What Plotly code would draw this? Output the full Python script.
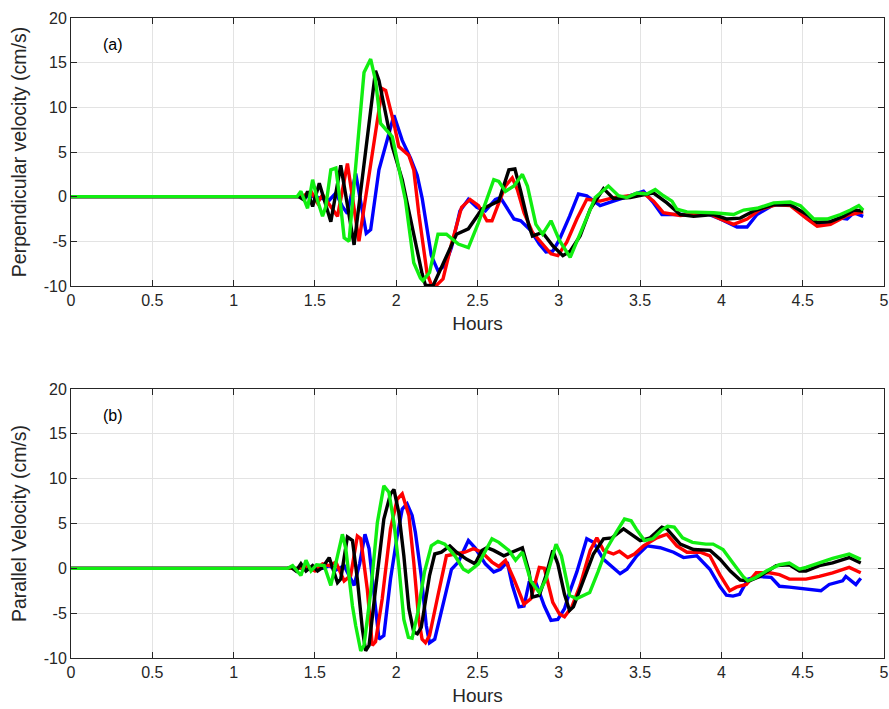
import plotly.graph_objects as go

# ---------------- data: (hours, cm/s) pairs ----------------
perp_blue = [(0,0),(1.50,0),(1.588,-0.4),(1.629,0.4),(1.669,-1.1),(1.700,-1.9),(1.751,2.6),(1.816,-4.1),(1.843,-3.7),(1.894,3.0),(1.986,9.1),(2.037,6.3),(2.088,4.3),(2.129,2.4),(2.160,-0.2),(2.216,-6.6),(2.257,-8.3),(2.299,-7.7),(2.340,-5.7),(2.392,-1.6),(2.444,-0.3),(2.496,-1.2),(2.548,-1.6),(2.610,-0.3),(2.641,-0.1),(2.683,-1.4),(2.724,-2.5),(2.766,-2.7),(2.828,-3.8),(2.880,-5.3),(2.921,-6.2),(2.963,-6.1),(3.004,-4.8),(3.066,-2.2),(3.121,0.3),(3.172,0.1),(3.254,-1.0),(3.336,-0.5),(3.439,0.1),(3.521,0.6),(3.583,-0.7),(3.634,-2.0),(3.747,-2.0),(3.911,-1.9),(3.993,-2.5),(4.096,-3.4),(4.158,-3.4),(4.219,-2.0),(4.321,-0.9),(4.424,-0.9),(4.547,-2.7),(4.629,-3.1),(4.732,-2.4),(4.773,-2.5),(4.814,-1.8),(4.872,-2.2)]
perp_red = [(0,0),(1.42,0),(1.476,0.6),(1.516,-0.7),(1.547,0.2),(1.588,-0.9),(1.639,-2.2),(1.700,3.7),(1.771,-5.0),(1.914,12.1),(1.935,11.9),(1.986,8.2),(2.016,5.6),(2.078,4.6),(2.108,3.0),(2.139,-1.9),(2.190,-8.6),(2.226,-10.3),(2.288,-9.2),(2.340,-5.3),(2.402,-1.2),(2.454,-0.3),(2.506,-1.0),(2.558,-2.7),(2.589,-2.7),(2.631,-0.7),(2.672,1.2),(2.714,2.1),(2.745,0.8),(2.786,-1.8),(2.838,-4.0),(2.900,-5.3),(2.952,-6.4),(2.994,-6.6),(3.049,-5.1),(3.111,-2.5),(3.172,-0.3),(3.254,-0.5),(3.336,-0.1),(3.439,0.1),(3.521,0.4),(3.583,-0.5),(3.644,-1.8),(3.747,-2.1),(3.911,-1.8),(3.993,-2.5),(4.075,-3.1),(4.158,-2.5),(4.240,-1.4),(4.342,-0.9),(4.424,-1.0),(4.527,-2.5),(4.589,-3.3),(4.671,-3.1),(4.773,-2.1),(4.872,-1.7)]
perp_black = [(0,0),(1.40,0),(1.435,-0.4),(1.455,0.6),(1.486,-1.1),(1.527,1.5),(1.598,-2.8),(1.659,3.5),(1.741,-5.4),(1.873,14.1),(1.894,13.0),(1.976,5.6),(2.037,1.9),(2.159,-8.6),(2.180,-9.9),(2.226,-10.0),(2.371,-4.2),(2.444,-3.6),(2.527,-1.4),(2.579,-0.9),(2.631,-0.5),(2.693,3.0),(2.730,3.1),(2.766,0.6),(2.817,-3.3),(2.838,-4.4),(2.900,-4.0),(2.963,-5.5),(3.025,-6.6),(3.070,-6.1),(3.131,-4.4),(3.193,-1.4),(3.275,0.9),(3.336,-0.2),(3.439,-0.1),(3.542,0.3),(3.583,0.4),(3.665,-0.7),(3.747,-2.0),(3.829,-2.2),(3.952,-2.0),(4.034,-2.5),(4.116,-2.4),(4.198,-1.6),(4.321,-0.9),(4.424,-0.9),(4.527,-2.0),(4.589,-2.9),(4.671,-2.8),(4.752,-2.2),(4.814,-1.5),(4.872,-1.6)]
perp_green = [(0,0),(1.39,0),(1.414,0.6),(1.435,-0.3),(1.455,-1.3),(1.486,1.9),(1.516,-0.4),(1.547,-2.2),(1.567,-1.1),(1.598,3.0),(1.629,3.2),(1.659,-1.1),(1.680,-4.6),(1.710,-5.0),(1.802,13.9),(1.843,15.4),(1.873,13.0),(1.904,8.2),(1.935,7.6),(1.976,6.7),(2.057,-0.4),(2.108,-7.4),(2.149,-9.1),(2.164,-9.4),(2.205,-8.5),(2.257,-4.2),(2.309,-4.2),(2.382,-5.3),(2.444,-5.7),(2.506,-2.9),(2.600,1.9),(2.631,1.7),(2.672,0.6),(2.724,1.2),(2.776,2.5),(2.807,1.2),(2.859,-3.1),(2.900,-4.2),(2.952,-2.7),(3.004,-4.9),(3.070,-6.8),(3.224,-0.1),(3.305,1.2),(3.367,0.1),(3.419,-0.1),(3.480,0.4),(3.542,0.3),(3.593,0.8),(3.644,0.1),(3.696,-0.5),(3.726,-1.4),(3.788,-1.7),(3.952,-1.8),(4.075,-2.0),(4.137,-1.5),(4.219,-1.3),(4.321,-0.7),(4.424,-0.6),(4.486,-1.0),(4.568,-2.5),(4.650,-2.5),(4.732,-2.0),(4.794,-1.5),(4.845,-1.0),(4.872,-1.5)]

par_blue = [(0,0),(1.55,0),(1.588,0.3),(1.629,-0.2),(1.680,0.3),(1.741,-1.9),(1.775,0.5),(1.808,3.8),(1.833,2.2),(1.873,-4.2),(1.894,-7.9),(1.924,-7.5),(1.965,-1.2),(2.006,3.6),(2.037,6.6),(2.067,7.2),(2.098,5.9),(2.118,4.0),(2.154,-0.8),(2.185,-6.4),(2.205,-8.3),(2.237,-7.9),(2.288,-4.2),(2.340,-0.1),(2.382,0.7),(2.444,3.1),(2.485,2.3),(2.548,0.5),(2.600,-0.4),(2.641,-0.1),(2.683,0.7),(2.714,-1.9),(2.755,-4.3),(2.786,-4.2),(2.817,-1.6),(2.859,-1.6),(2.911,-4.2),(2.952,-5.8),(2.994,-5.7),(3.035,-4.5),(3.066,-2.7),(3.111,-0.4),(3.172,3.3),(3.213,2.9),(3.275,1.0),(3.336,0.1),(3.377,-0.6),(3.419,-0.1),(3.480,1.4),(3.542,2.5),(3.624,2.3),(3.706,1.8),(3.767,1.2),(3.849,1.4),(3.929,-0.1),(3.990,-2.0),(4.031,-3.0),(4.071,-3.1),(4.112,-2.9),(4.163,-1.2),(4.224,-0.9),(4.306,-1.0),(4.357,-2.0),(4.418,-2.1),(4.500,-2.3),(4.612,-2.5),(4.663,-1.8),(4.745,-1.4),(4.765,-0.9),(4.827,-1.8),(4.857,-1.1)]
par_red = [(0,0),(1.40,0),(1.45,0.2),(1.50,-0.3),(1.547,0.5),(1.588,0.3),(1.629,0.7),(1.680,-1.4),(1.720,-0.8),(1.761,3.6),(1.782,3.3),(1.822,-2.3),(1.853,-8.6),(1.873,-8.2),(1.914,-3.4),(1.965,4.4),(2.006,7.7),(2.037,8.3),(2.078,5.9),(2.108,0.7),(2.139,-5.7),(2.159,-7.9),(2.180,-8.3),(2.205,-7.5),(2.257,-3.0),(2.309,1.4),(2.361,1.6),(2.423,1.8),(2.475,2.2),(2.527,1.8),(2.589,0.7),(2.631,0.2),(2.672,0.9),(2.724,-1.2),(2.786,-4.0),(2.828,-3.4),(2.880,0.1),(2.911,0.0),(2.963,-3.8),(3.004,-5.1),(3.035,-5.4),(3.080,-4.3),(3.131,-1.9),(3.193,2.0),(3.234,3.4),(3.275,2.0),(3.336,1.6),(3.373,1.9),(3.424,1.2),(3.465,1.6),(3.521,2.5),(3.603,3.4),(3.665,3.8),(3.726,2.5),(3.788,1.8),(3.870,1.8),(3.929,1.4),(3.990,-0.7),(4.051,-2.5),(4.092,-2.1),(4.153,-1.8),(4.214,-0.5),(4.296,-0.5),(4.357,-0.7),(4.418,-1.2),(4.520,-1.2),(4.602,-0.9),(4.684,-0.5),(4.786,0.1),(4.857,-0.5)]
par_black = [(0,0),(1.33,0),(1.353,0.1),(1.384,-0.3),(1.414,0.5),(1.445,-0.3),(1.486,0.3),(1.516,-0.3),(1.547,0.1),(1.588,1.2),(1.639,-1.6),(1.659,-1.2),(1.700,3.5),(1.731,3.1),(1.761,-1.2),(1.792,-6.8),(1.812,-9.2),(1.833,-8.6),(1.873,-2.3),(1.924,5.5),(1.965,8.3),(1.986,8.8),(2.016,6.2),(2.047,1.4),(2.078,-4.5),(2.108,-7.1),(2.130,-7.3),(2.154,-6.6),(2.205,-0.8),(2.237,1.6),(2.278,1.8),(2.330,2.5),(2.371,1.8),(2.434,1.0),(2.485,0.5),(2.527,2.0),(2.558,2.3),(2.600,2.0),(2.662,1.4),(2.714,1.8),(2.776,2.3),(2.817,-0.4),(2.838,-3.2),(2.880,-3.0),(2.921,-0.8),(2.963,2.0),(2.994,0.5),(3.035,-2.9),(3.066,-4.7),(3.090,-4.3),(3.152,-1.2),(3.213,1.6),(3.275,3.3),(3.326,3.4),(3.398,4.4),(3.459,3.6),(3.501,3.1),(3.562,3.4),(3.634,4.6),(3.665,4.4),(3.747,2.7),(3.829,2.1),(3.931,2.0),(3.993,1.0),(4.055,-0.3),(4.116,-1.3),(4.173,-1.4),(4.235,-0.9),(4.337,0.3),(4.418,0.4),(4.480,-0.3),(4.520,-0.3),(4.602,0.3),(4.684,0.6),(4.786,1.2),(4.857,0.6)]
par_green = [(0,0),(1.333,0),(1.363,0.3),(1.394,-0.4),(1.414,-0.8),(1.445,0.9),(1.476,-0.3),(1.510,0.4),(1.557,0.3),(1.598,-1.9),(1.629,0.7),(1.669,3.8),(1.690,2.2),(1.731,-4.2),(1.751,-6.4),(1.782,-9.2),(1.802,-8.6),(1.843,-2.7),(1.884,5.1),(1.924,9.2),(1.955,8.5),(1.986,5.1),(2.016,0.3),(2.047,-5.7),(2.075,-7.7),(2.098,-7.8),(2.133,-4.9),(2.174,-0.4),(2.216,2.5),(2.257,3.0),(2.299,2.7),(2.361,1.4),(2.413,-0.1),(2.444,-0.4),(2.506,0.5),(2.558,2.3),(2.589,3.3),(2.631,2.9),(2.693,2.0),(2.734,0.9),(2.776,1.8),(2.828,-1.4),(2.880,-2.7),(2.921,-1.2),(2.983,2.7),(3.016,1.4),(3.067,-3.0),(3.108,-3.4),(3.190,-2.7),(3.241,-0.4),(3.292,2.1),(3.353,4.0),(3.404,5.5),(3.445,5.3),(3.476,4.4),(3.527,3.1),(3.578,3.3),(3.629,4.2),(3.669,4.7),(3.710,4.6),(3.761,3.4),(3.822,2.9),(3.904,2.7),(3.949,2.7),(4.010,2.1),(4.071,0.6),(4.133,-0.9),(4.163,-1.4),(4.204,-1.1),(4.276,-0.3),(4.357,0.4),(4.418,0.6),(4.480,-0.1),(4.520,0.1),(4.602,0.6),(4.684,1.1),(4.786,1.6),(4.827,1.2),(4.857,1.0)]

x_ticks = [0, 0.5, 1, 1.5, 2, 2.5, 3, 3.5, 4, 4.5, 5]
x_tick_labels = ["0", "0.5", "1", "1.5", "2", "2.5", "3", "3.5", "4", "4.5", "5"]
y_ticks = [-10, -5, 0, 5, 10, 15, 20]
y_tick_labels = ["-10", "-5", "0", "5", "10", "15", "20"]
panel_labels = ["(a)", "(b)"]
y_titles = ["Perpendicular velocity (cm/s)", "Parallel Velocity (cm/s)"]
x_title = "Hours"

colors = {"blue": "#0000ff", "red": "#ff0000", "black": "#000000", "green": "#11ee11"}

FONT = "Liberation Sans, Arial, Helvetica, sans-serif"
fig = go.Figure()

panels = [
    ("x", "y", [("blue", perp_blue), ("red", perp_red), ("black", perp_black), ("green", perp_green)]),
    ("x2", "y2", [("blue", par_blue), ("red", par_red), ("black", par_black), ("green", par_green)]),
]
for xa, ya, series in panels:
    for cname, pts in series:
        fig.add_trace(go.Scatter(
            x=[p[0] for p in pts], y=[p[1] for p in pts],
            mode="lines", line=dict(color=colors[cname], width=3.4),
            xaxis=xa, yaxis=ya, showlegend=False, hoverinfo="skip"))

axis_common = dict(
    showline=True, linecolor="#262626", linewidth=1, mirror="ticks",
    ticks="inside", ticklen=6, tickcolor="#262626", automargin=False,
    showgrid=True, gridcolor="#e3e3e3", gridwidth=1, zeroline=False,
    tickfont=dict(family=FONT, size=16, color="#262626"),
)
xa_common = dict(axis_common, range=[0, 5], tickmode="array", tickvals=x_ticks, ticktext=x_tick_labels,
                 title=dict(text=x_title, font=dict(family=FONT, size=19, color="#262626"), standoff=8))
ya_common = dict(axis_common, range=[-10, 20], tickmode="array", tickvals=y_ticks, ticktext=y_tick_labels)

fig.update_layout(
    width=889, height=709,
    margin=dict(l=71, r=5, t=18, b=51),
    paper_bgcolor="white", plot_bgcolor="white",
    xaxis=dict(xa_common, domain=[0, 1], anchor="y"),
    yaxis=dict(ya_common, domain=[0.58125, 1.0], anchor="x",
               title=dict(text=y_titles[0], font=dict(family=FONT, size=19.5, color="#262626"), standoff=11)),
    xaxis2=dict(xa_common, domain=[0, 1], anchor="y2"),
    yaxis2=dict(ya_common, domain=[0.0, 0.4203], anchor="x2",
                title=dict(text=y_titles[1], font=dict(family=FONT, size=19.5, color="#262626"), standoff=11)),
    annotations=[
        dict(text=panel_labels[0], x=0.26, y=17.0, xref="x", yref="y", showarrow=False,
             font=dict(family=FONT, size=16, color="#000000")),
        dict(text=panel_labels[1], x=0.26, y=17.0, xref="x2", yref="y2", showarrow=False,
             font=dict(family=FONT, size=16, color="#000000")),
    ],
)

fig.write_html("out.html", config={"displayModeBar": False},
               post_script="document.body.style.margin='0px';")
